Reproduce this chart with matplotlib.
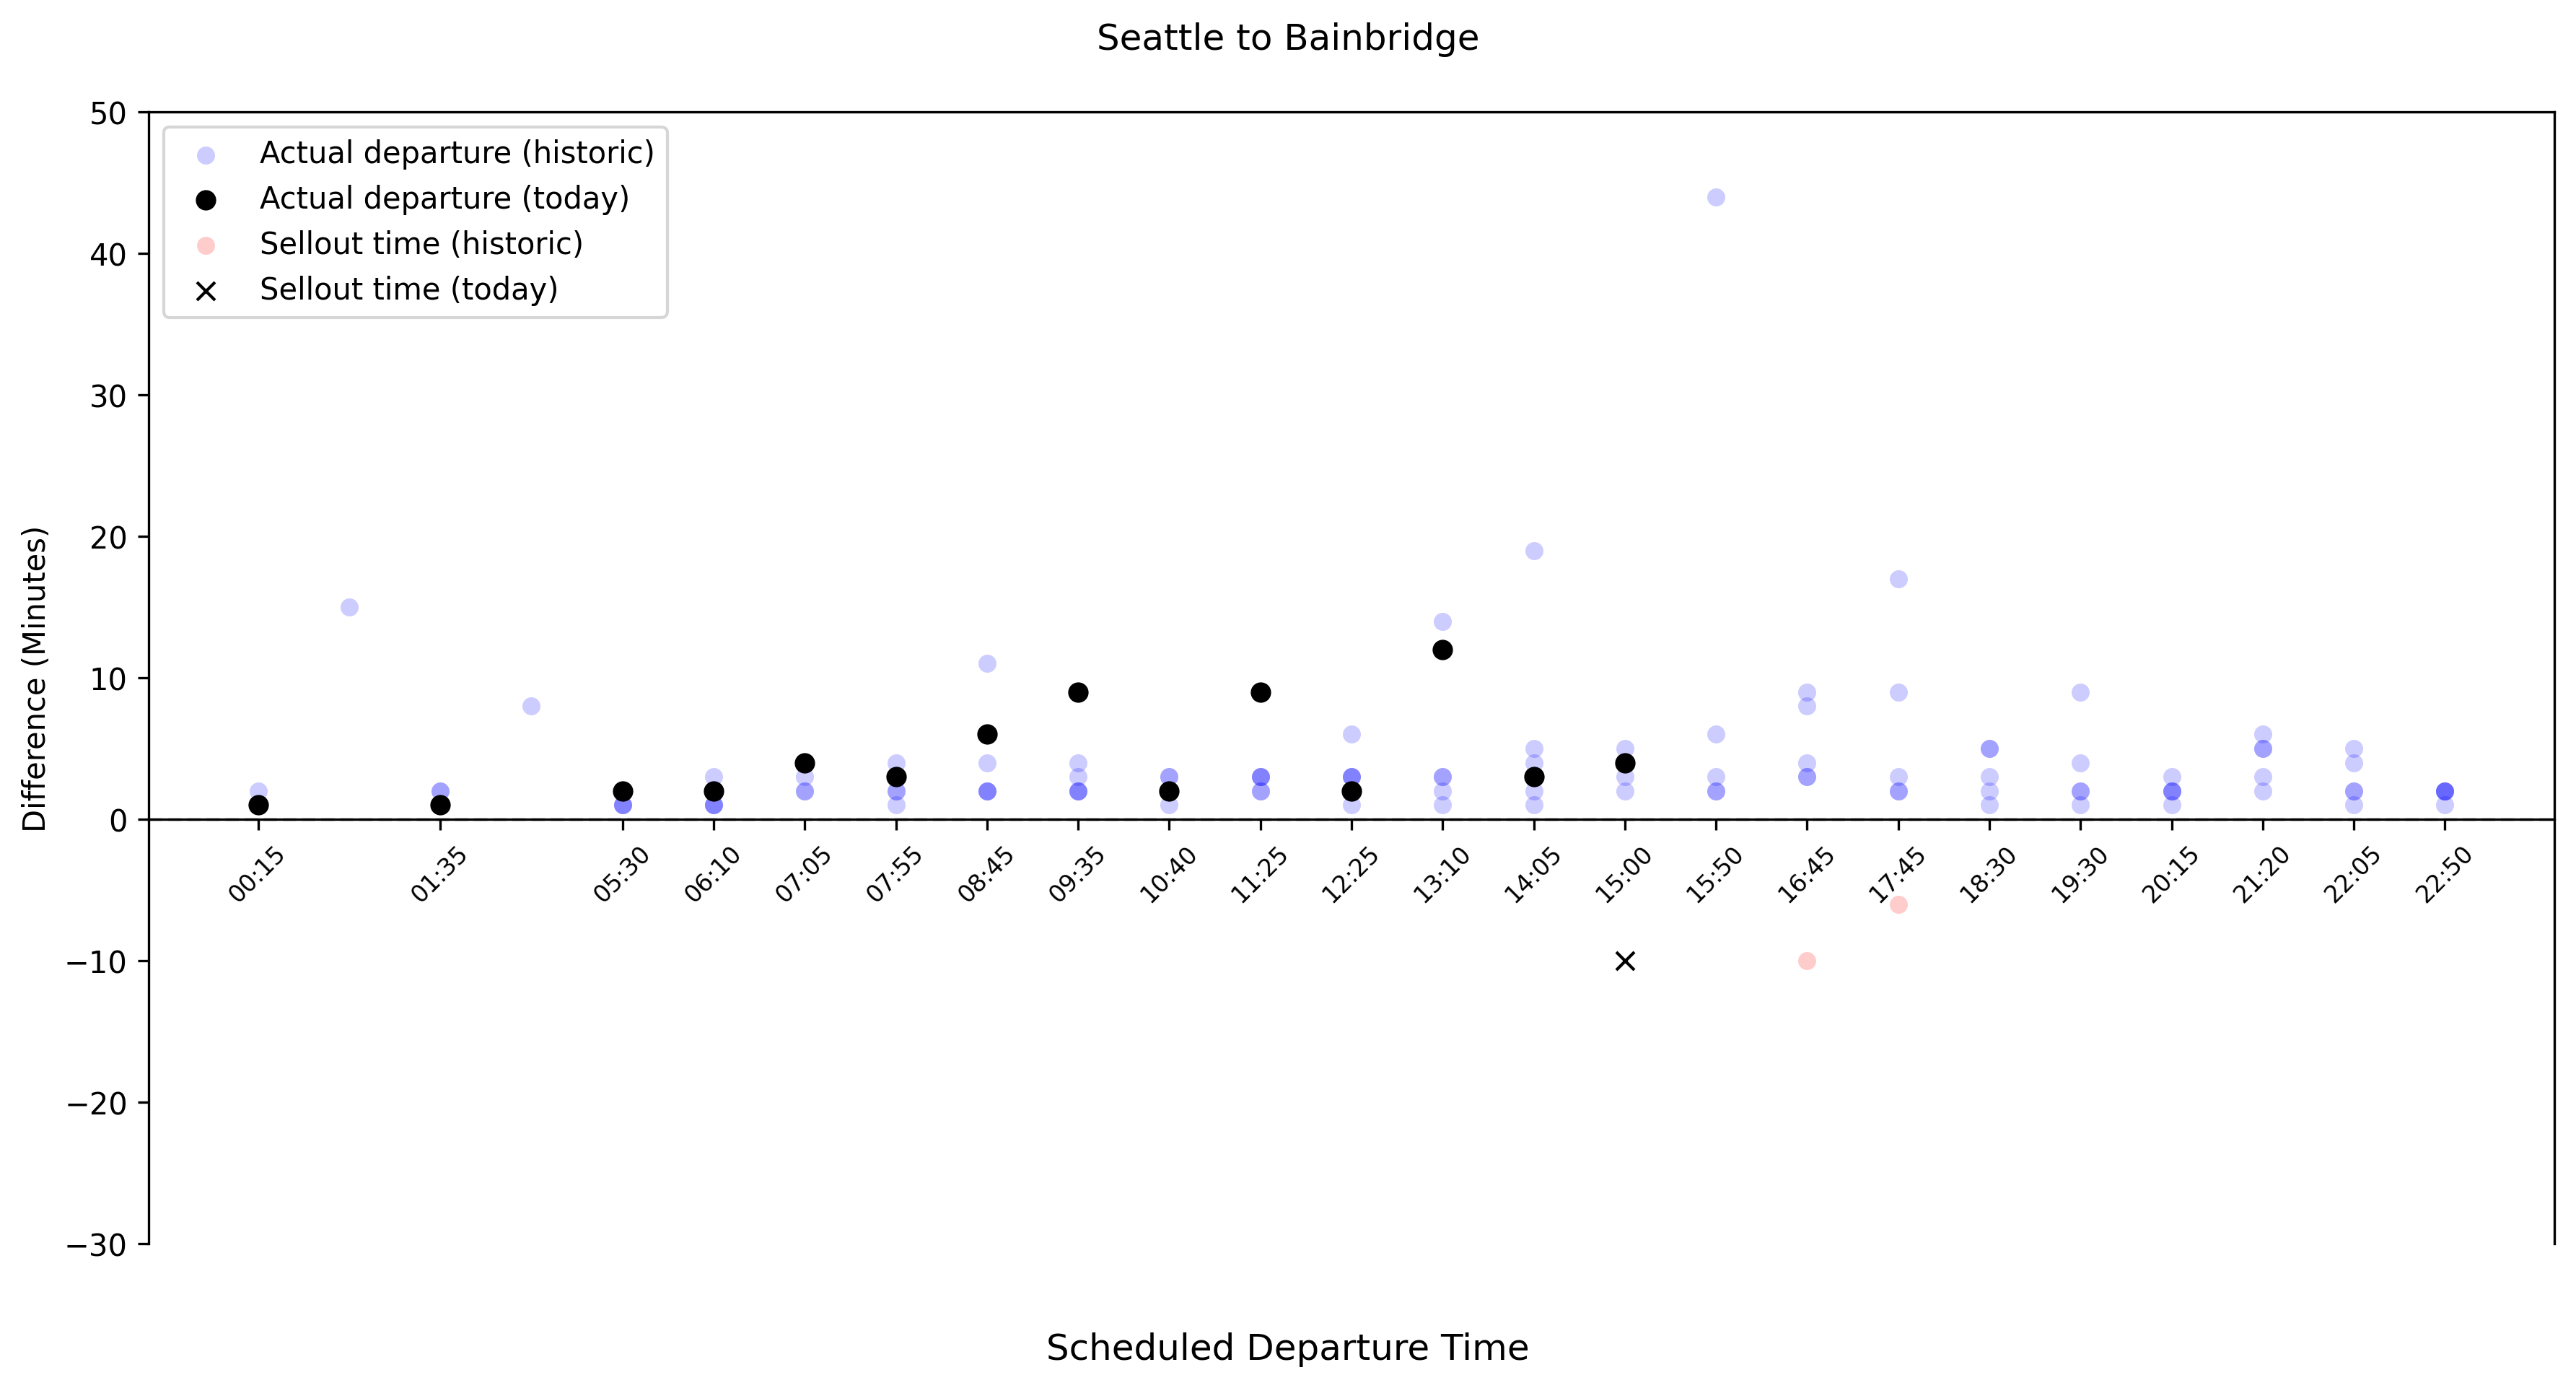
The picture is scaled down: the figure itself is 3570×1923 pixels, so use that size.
import matplotlib
matplotlib.use("Agg")
import matplotlib.pyplot as plt

# ---------------------------------------------------------------------------
# Data (x = departure slot index, y = minutes late)
# ---------------------------------------------------------------------------
tick_slots = [0, 2, 4, 5, 6, 7, 8, 9, 10, 11, 12, 13, 14, 15, 16, 17, 18,
              19, 20, 21, 22, 23, 24]
tick_labels = ["00:15", "01:35", "05:30", "06:10", "07:05", "07:55", "08:45",
               "09:35", "10:40", "11:25", "12:25", "13:10", "14:05", "15:00",
               "15:50", "16:45", "17:45", "18:30", "19:30", "20:15", "21:20",
               "22:05", "22:50"]

hist_slot = [0,
             1,
             2, 2,
             3,
             4, 4, 4,
             5, 5, 5, 5,
             6, 6, 6,
             7, 7, 7, 7,
             8, 8, 8, 8, 8,
             9, 9, 9, 9, 9,
             10, 10, 10,
             11, 11, 11, 11, 11,
             12, 12, 12, 12, 12,
             13, 13, 13, 13, 13,
             14, 14, 14, 14, 14,
             15, 15, 15,
             16, 16, 16, 16, 16,
             17, 17, 17, 17, 17,
             18, 18, 18, 18, 18,
             19, 19, 19, 19, 19,
             20, 20, 20, 20, 20,
             21, 21, 21, 21, 21,
             22, 22, 22, 22, 22,
             23, 23, 23, 23, 23,
             24, 24, 24, 24, 24]
hist_delay = [2,
              15,
              2, 2,
              8,
              1, 1, 1,
              3, 1, 1, 1,
              3, 2, 2,
              4, 2, 2, 1,
              11, 4, 2, 2, 2,
              4, 3, 2, 2, 2,
              3, 3, 1,
              3, 3, 3, 2, 2,
              6, 3, 3, 3, 1,
              14, 3, 3, 2, 1,
              19, 5, 4, 2, 1,
              5, 3, 2,
              44, 6, 3, 2, 2,
              9, 8, 4, 3, 3,
              17, 9, 3, 2, 2,
              5, 5, 3, 2, 1,
              9, 4, 2, 2, 1,
              3, 2, 2, 2, 1,
              6, 5, 5, 3, 2,
              5, 4, 2, 2, 1,
              2, 2, 2, 2, 1]

today_slot = [0, 2, 4, 5, 6, 7, 8, 9, 10, 11, 12, 13, 14, 15]
today_delay = [1, 1, 2, 2, 4, 3, 6, 9, 2, 9, 2, 12, 3, 4]

sellout_hist_slot = [17, 18]
sellout_hist_delay = [-10, -6]

sellout_today_slot = [15]
sellout_today_delay = [-10]


# ---------------------------------------------------------------------------
# Plot
# ---------------------------------------------------------------------------
fig = plt.figure(figsize=(11.9, 6.4133), dpi=300)
ax = fig.add_axes([0.0577, 0.10395, 0.93390, 0.81497])

ax.axhline(0, color="grey", linestyle="--", linewidth=1.2, alpha=0.3, zorder=0.5)

ax.scatter(hist_slot, hist_delay, s=36, color="blue", alpha=0.2,
           linewidths=0, label="Actual departure (historic)")
ax.scatter(today_slot, today_delay, s=46, color="black", linewidths=0,
           label="Actual departure (today)")
ax.scatter(sellout_hist_slot, sellout_hist_delay, s=36, color="red", alpha=0.2,
           linewidths=0, label="Sellout time (historic)")
ax.scatter(sellout_today_slot, sellout_today_delay, s=36, marker="x",
           color="black", linewidths=1.0, label="Sellout time (today)")

ax.set_ylim(-30, 50)
ax.set_yticks(range(-30, 51, 10))
ax.spines["bottom"].set_position(("data", 0))
ax.set_xticks(tick_slots, tick_labels, rotation=45, fontsize=8)

ax.set_ylabel("Difference (Minutes)")
ax.legend(loc="upper left")

fig.suptitle("Seattle to Bainbridge", y=0.984)
fig.supxlabel("Scheduled Departure Time", y=0.0157)

fig.savefig("out.png", dpi=300)
plt.close(fig)
